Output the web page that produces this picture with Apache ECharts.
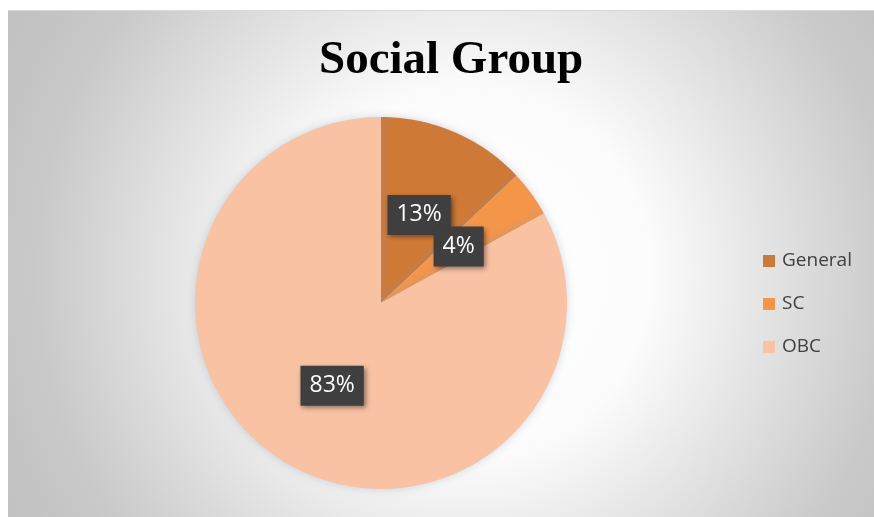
<!DOCTYPE html>
<html>
<head>
<meta charset="utf-8">
<script src="https://cdn.jsdelivr.net/npm/echarts@6/dist/echarts.min.js"></script>
<style>
  html, body { margin: 0; padding: 0; background: #ffffff; }
  #chart { width: 874px; height: 517px; }
</style>
</head>
<body>
<div id="chart"></div>
<script>
// Social group shares (percent)
const categories = ['General', 'SC', 'OBC'];
const shares = [13, 4, 83];
const sliceColors = ['#CF7936', '#F3964A', '#F8C2A3'];

const chart = echarts.init(document.getElementById('chart'), null, { renderer: 'canvas' });

const pieData = categories.map((name, i) => ({
  name: name,
  value: shares[i],
  itemStyle: { color: sliceColors[i] }
}));

chart.setOption({
  animation: false,
  backgroundColor: '#ffffff',
  graphic: [{
    type: 'rect',
    z: -10,
    silent: true,
    shape: { x: 8, y: 10, width: 866, height: 507 },
    style: {
      fill: new echarts.graphic.RadialGradient(0.53, 0.52, 1, [
        { offset: 0, color: '#ffffff' },
        { offset: 0.36, color: '#fcfcfc' },
        { offset: 0.52, color: '#ebebeb' },
        { offset: 0.85, color: '#c9c9c9' },
        { offset: 1, color: '#c2c2c2' }
      ])
    }
  }, {
    type: 'line',
    z: -9,
    silent: true,
    shape: { x1: 8, y1: 10.5, x2: 874, y2: 10.5 },
    style: { stroke: '#d9d9d9', lineWidth: 1 }
  }],
  title: {
    text: 'Social Group',
    left: 314,
    top: 32,
    textStyle: {
      fontFamily: '"Liberation Serif", "Times New Roman", serif',
      fontWeight: 'bold',
      fontSize: 47,
      color: '#000000'
    }
  },
  legend: {
    orient: 'vertical',
    left: 763,
    top: 251,
    padding: 0,
    itemWidth: 12,
    itemHeight: 12,
    itemGap: 23,
    icon: 'rect',
    data: categories,
    textStyle: {
      fontFamily: '"Open Sans", sans-serif',
      fontSize: 19,
      lineHeight: 20,
      color: '#404040',
      padding: [0, 0, 0, 2]
    }
  },
  series: [{
    type: 'pie',
    center: [381, 303],
    radius: 186,
    startAngle: 90,
    clockwise: true,
    data: pieData,
    itemStyle: {
      shadowBlur: 10,
      shadowColor: 'rgba(120, 150, 180, 0.35)'
    },
    labelLayout: { hideOverlap: false },
    label: {
      show: true,
      position: 'inside',
      formatter: '{c}%',
      fontFamily: '"Open Sans", sans-serif',
      fontSize: 23,
      lineHeight: 23,
      color: '#ffffff',
      backgroundColor: '#3f3f3f',
      padding: [9, 9, 8, 9],
      shadowColor: 'rgba(0, 0, 0, 0.45)',
      shadowBlur: 5,
      shadowOffsetX: 2,
      shadowOffsetY: 2
    },
    labelLine: { show: false },
    emphasis: { disabled: true }
  }]
});
</script>
</body>
</html>
